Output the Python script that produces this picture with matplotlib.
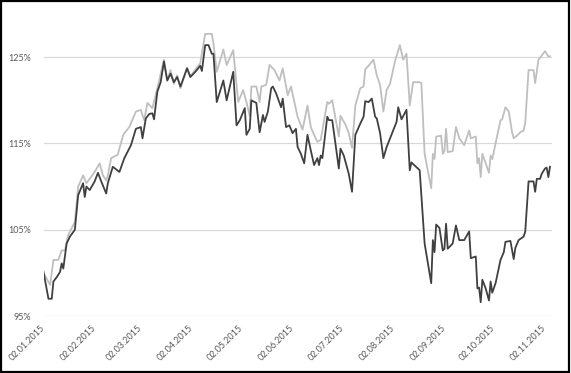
#!/usr/bin/env python3

import matplotlib

matplotlib.use("Agg")
import matplotlib.pyplot as plt
import matplotlib.dates as mdates
import pandas as pd
from matplotlib.patches import Rectangle
from matplotlib.ticker import FuncFormatter

# dark series
dark_dates = [
    "2015-01-02", "2015-01-05", "2015-01-07", "2015-01-08", "2015-01-10", "2015-01-12",
    "2015-01-13", "2015-01-14", "2015-01-16", "2015-01-18", "2015-01-21", "2015-01-23",
    "2015-01-26", "2015-01-27", "2015-01-28", "2015-01-30", "2015-02-02", "2015-02-04",
    "2015-02-06", "2015-02-09", "2015-02-10", "2015-02-13", "2015-02-17", "2015-02-20",
    "2015-02-24", "2015-02-27", "2015-03-02", "2015-03-03", "2015-03-05", "2015-03-07",
    "2015-03-09", "2015-03-10", "2015-03-12", "2015-03-14", "2015-03-16", "2015-03-18",
    "2015-03-20", "2015-03-22", "2015-03-24", "2015-03-26", "2015-03-30", "2015-04-01",
    "2015-04-04", "2015-04-07", "2015-04-08", "2015-04-10", "2015-04-12", "2015-04-14",
    "2015-04-15", "2015-04-17", "2015-04-21", "2015-04-23", "2015-04-27", "2015-04-29",
    "2015-05-01", "2015-05-04", "2015-05-05", "2015-05-07", "2015-05-08", "2015-05-11",
    "2015-05-13", "2015-05-15", "2015-05-16", "2015-05-18", "2015-05-20", "2015-05-21",
    "2015-05-23", "2015-05-26", "2015-05-27", "2015-05-29", "2015-05-31", "2015-06-02",
    "2015-06-04", "2015-06-05", "2015-06-07", "2015-06-09", "2015-06-11", "2015-06-13",
    "2015-06-15", "2015-06-17", "2015-06-18", "2015-06-19", "2015-06-20", "2015-06-23",
    "2015-06-24", "2015-06-26", "2015-06-30", "2015-07-01", "2015-07-03", "2015-07-06",
    "2015-07-08", "2015-07-10", "2015-07-13", "2015-07-15", "2015-07-16", "2015-07-18",
    "2015-07-20", "2015-07-22", "2015-07-23", "2015-07-25", "2015-07-27", "2015-07-29",
    "2015-08-04", "2015-08-05", "2015-08-07", "2015-08-10", "2015-08-12", "2015-08-13",
    "2015-08-18", "2015-08-21", "2015-08-25", "2015-08-26", "2015-08-27", "2015-08-28",
    "2015-08-30", "2015-09-01", "2015-09-02", "2015-09-03", "2015-09-04", "2015-09-07",
    "2015-09-09", "2015-09-11", "2015-09-14", "2015-09-17", "2015-09-18", "2015-09-21",
    "2015-09-22", "2015-09-23", "2015-09-24", "2015-09-25", "2015-09-27", "2015-09-29",
    "2015-09-30", "2015-10-01", "2015-10-03", "2015-10-06", "2015-10-08", "2015-10-09",
    "2015-10-12", "2015-10-14", "2015-10-15", "2015-10-17", "2015-10-20", "2015-10-21",
    "2015-10-23", "2015-10-26", "2015-10-27", "2015-10-28", "2015-10-30", "2015-10-31",
    "2015-11-02", "2015-11-03", "2015-11-04", "2015-11-05",
]
dark_values = [
    100.1, 97.0, 97.0, 99.0, 99.5, 100.1,
    101.1, 100.5, 103.4, 104.2, 105.0, 109.0,
    110.4, 108.8, 110.0, 109.6, 110.6, 111.6,
    110.6, 109.2, 110.4, 112.3, 111.7, 113.3,
    114.8, 116.7, 116.9, 115.6, 117.9, 118.4,
    118.5, 117.8, 121.0, 122.1, 124.5, 122.3,
    123.1, 122.1, 122.7, 121.6, 123.7, 122.7,
    123.3, 124.0, 123.4, 126.4, 126.4, 125.4,
    125.4, 119.8, 122.3, 120.0, 123.3, 117.1,
    117.7, 119.1, 116.0, 116.7, 120.0, 119.7,
    116.3, 118.3, 117.5, 118.7, 121.4, 121.6,
    120.8, 119.2, 120.2, 116.9, 117.1, 116.2,
    116.7, 114.6, 113.8, 112.7, 116.0, 114.2,
    112.5, 113.3, 112.5, 113.6, 113.3, 118.1,
    117.7, 117.7, 112.1, 114.4, 113.6, 111.5,
    109.4, 116.0, 117.3, 118.1, 119.9, 119.8,
    120.2, 118.1, 117.9, 116.2, 113.3, 114.6,
    117.5, 119.2, 117.8, 118.9, 111.9, 112.8,
    111.9, 103.4, 98.8, 103.8, 102.4, 105.6,
    105.2, 102.6, 102.8, 105.7, 102.8, 103.4,
    105.5, 103.8, 103.8, 104.8, 101.7, 101.9,
    98.2, 98.3, 96.6, 99.2, 98.2, 96.8,
    99.0, 97.7, 98.8, 101.5, 102.4, 103.6,
    103.7, 101.6, 102.9, 103.8, 104.2, 104.8,
    110.6, 110.6, 109.4, 110.9, 110.9, 111.5,
    112.1, 112.2, 111.1, 112.3,
]

# light series
light_dates = [
    "2015-01-02", "2015-01-06", "2015-01-08", "2015-01-11", "2015-01-13", "2015-01-15",
    "2015-01-17", "2015-01-21", "2015-01-23", "2015-01-26", "2015-01-28", "2015-01-30",
    "2015-02-02", "2015-02-05", "2015-02-07", "2015-02-09", "2015-02-10", "2015-02-12",
    "2015-02-16", "2015-02-19", "2015-02-20", "2015-02-23", "2015-02-27", "2015-03-02",
    "2015-03-04", "2015-03-06", "2015-03-09", "2015-03-12", "2015-03-16", "2015-03-18",
    "2015-03-20", "2015-03-22", "2015-03-24", "2015-03-26", "2015-03-30", "2015-04-01",
    "2015-04-07", "2015-04-10", "2015-04-14", "2015-04-15", "2015-04-17", "2015-04-21",
    "2015-04-23", "2015-04-27", "2015-04-30", "2015-05-03", "2015-05-05", "2015-05-07",
    "2015-05-08", "2015-05-11", "2015-05-13", "2015-05-14", "2015-05-17", "2015-05-19",
    "2015-05-22", "2015-05-25", "2015-05-27", "2015-05-30", "2015-06-01", "2015-06-05",
    "2015-06-08", "2015-06-11", "2015-06-13", "2015-06-15", "2015-06-17", "2015-06-19",
    "2015-06-23", "2015-06-24", "2015-06-26", "2015-06-30", "2015-07-01", "2015-07-04",
    "2015-07-06", "2015-07-08", "2015-07-10", "2015-07-13", "2015-07-15", "2015-07-16",
    "2015-07-18", "2015-07-21", "2015-07-23", "2015-07-25", "2015-07-27", "2015-07-29",
    "2015-07-31", "2015-08-03", "2015-08-06", "2015-08-08", "2015-08-10", "2015-08-12",
    "2015-08-14", "2015-08-18", "2015-08-19", "2015-08-21", "2015-08-25", "2015-08-26",
    "2015-08-27", "2015-08-28", "2015-08-31", "2015-09-01", "2015-09-02", "2015-09-03",
    "2015-09-04", "2015-09-07", "2015-09-09", "2015-09-11", "2015-09-14", "2015-09-17",
    "2015-09-18", "2015-09-21", "2015-09-22", "2015-09-23", "2015-09-24", "2015-09-25",
    "2015-09-27", "2015-09-29", "2015-09-30", "2015-10-01", "2015-10-06", "2015-10-07",
    "2015-10-09", "2015-10-11", "2015-10-13", "2015-10-14", "2015-10-16", "2015-10-18",
    "2015-10-20", "2015-10-21", "2015-10-23", "2015-10-26", "2015-10-27", "2015-10-29",
    "2015-10-31", "2015-11-02", "2015-11-04", "2015-11-05",
]
light_values = [
    100.0, 98.6, 101.5, 101.5, 102.6, 102.6,
    104.4, 105.9, 110.0, 111.3, 110.4, 110.9,
    111.7, 112.7, 111.3, 110.7, 111.3, 113.3,
    113.7, 115.8, 116.2, 116.9, 118.7, 118.9,
    117.7, 119.7, 119.1, 121.4, 124.7, 122.3,
    123.5, 121.9, 122.9, 121.4, 123.8, 122.8,
    124.3, 127.7, 127.7, 126.6, 123.3, 125.9,
    124.1, 125.8, 119.8, 121.2, 119.8, 118.2,
    121.6, 121.6, 119.8, 121.6, 121.8, 124.1,
    123.5, 122.3, 123.7, 120.6, 121.6, 118.1,
    116.6, 119.4, 116.9, 116.0, 115.2, 115.4,
    119.8, 119.6, 120.0, 115.8, 118.2, 117.2,
    116.2, 114.5, 119.4, 121.4, 121.6, 123.6,
    124.0, 124.7, 122.9, 121.8, 118.7, 121.2,
    121.9, 124.5, 126.4, 124.7, 125.4, 119.4,
    122.1, 122.1, 122.0, 113.8, 109.8, 113.8,
    113.2, 115.8, 115.9, 113.8, 114.1, 116.7,
    114.0, 114.1, 116.9, 115.6, 114.8, 116.5,
    115.6, 115.8, 112.7, 113.3, 111.1, 113.8,
    112.7, 111.6, 113.6, 113.2, 117.7, 117.8,
    119.2, 118.7, 116.3, 115.6, 115.9, 116.3,
    116.5, 117.4, 123.5, 123.5, 122.0, 124.7,
    125.2, 125.7, 125.1, 125.1,
]

y_ticks = [95, 105, 115, 125]
x_ticks = [
    "2015-01-02", "2015-02-02", "2015-03-02", "2015-04-02", "2015-05-02", "2015-06-02",
    "2015-07-02", "2015-08-02", "2015-09-02", "2015-10-02", "2015-11-02",
]

plt.rcParams["font.family"] = ["Lato", "DejaVu Sans"]

fig = plt.figure(figsize=(5.71, 3.73), dpi=100)
ax = fig.add_axes([0.0762, 0.1528, 0.8905, 0.7748])

ax.plot(pd.to_datetime(light_dates), light_values, color="#bfbfbf", linewidth=1.3)
ax.plot(pd.to_datetime(dark_dates), dark_values, color="#404040", linewidth=1.3)

start = pd.Timestamp("2015-01-02")
ax.set_xlim(start, start + pd.Timedelta(days=308.2))
ax.set_ylim(95, 128.5)

ax.set_yticks(y_ticks)
ax.yaxis.set_major_formatter(FuncFormatter(lambda v, p: "%d%%" % v))
ax.set_xticks(pd.to_datetime(x_ticks))
ax.xaxis.set_major_formatter(mdates.DateFormatter("%d.%m.%Y"))
plt.setp(ax.get_xticklabels(), rotation=45, ha="right", va="center", rotation_mode="anchor")

ax.grid(axis="y", color="#d9d9d9", linewidth=0.9)
ax.set_axisbelow(True)
for s in ax.spines.values():
    s.set_visible(False)
ax.tick_params(axis="both", length=0, labelsize=6.5, colors="#595959")
ax.tick_params(axis="x", pad=8)
ax.tick_params(axis="y", pad=9)

fig.patches.append(
    Rectangle((0.002, 0.003), 0.995, 0.994, transform=fig.transFigure,
              fill=False, edgecolor="black", linewidth=1.6)
)

fig.savefig("out.png", dpi=100)
